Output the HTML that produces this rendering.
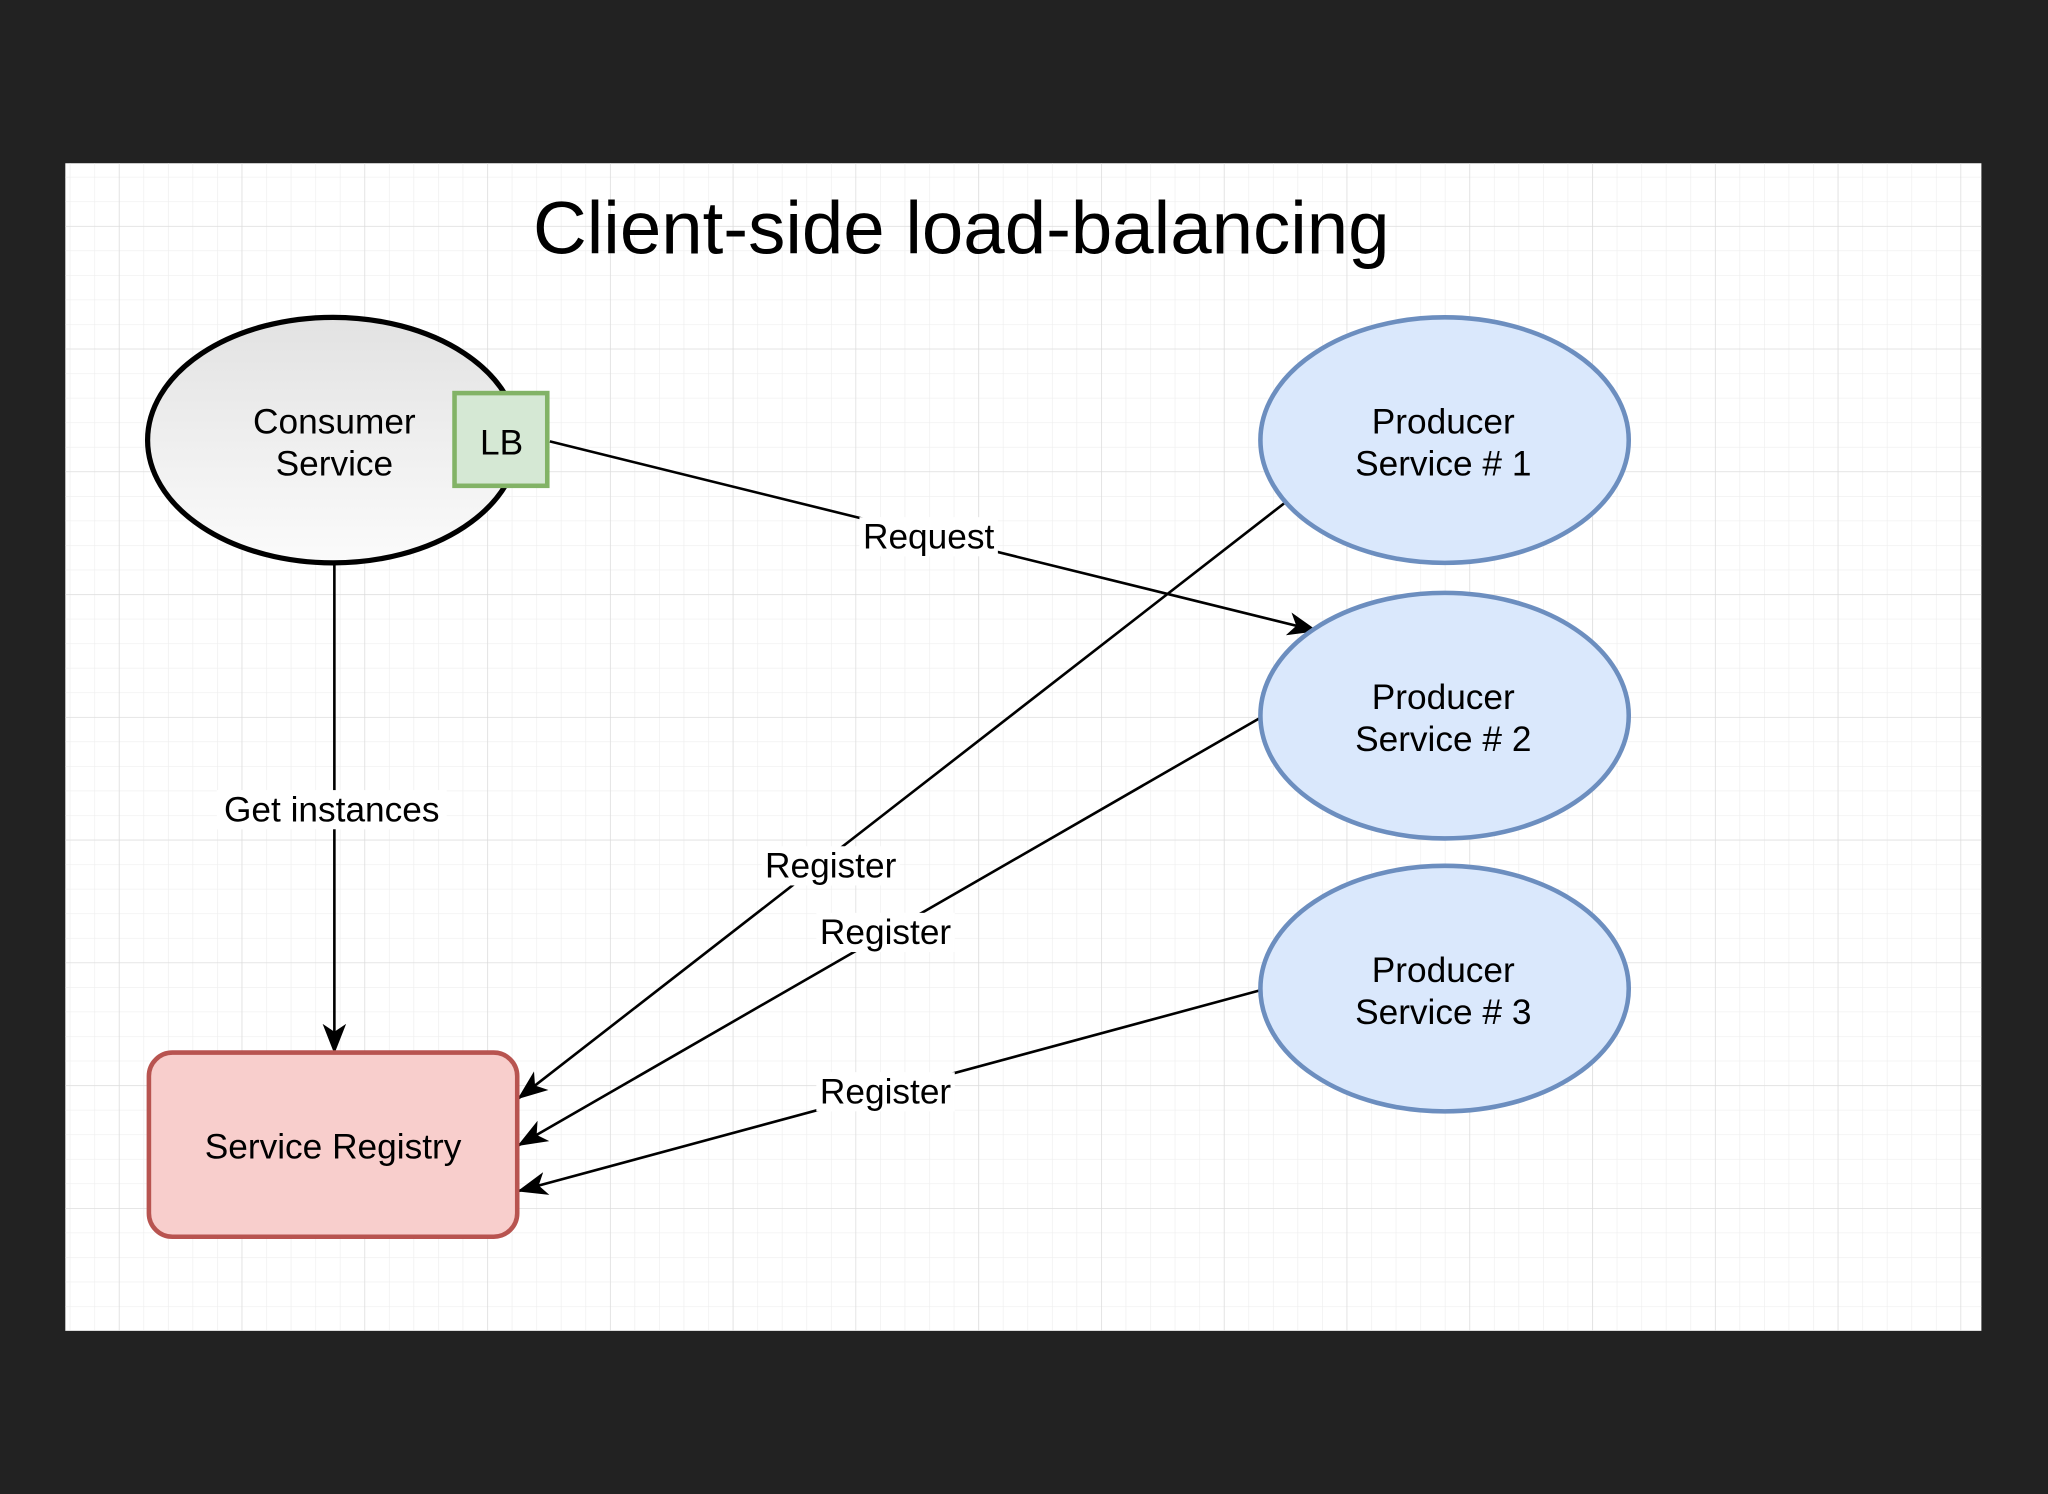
<!DOCTYPE html>
<html><head><meta charset="utf-8"><style>
html,body{margin:0;padding:0;background:#222;}
svg{display:block;}
text{font-family:"Liberation Sans",Arial,sans-serif;fill:#000;}
</style></head><body>
<svg width="2048" height="1494" viewBox="0 0 1568 1144" preserveAspectRatio="none" xmlns="http://www.w3.org/2000/svg">
<defs>
<pattern id="minor" x="91" y="173" width="18.8" height="18.8" patternUnits="userSpaceOnUse">
<path d="M0 0V18.8M0 0H18.8" stroke="#eeeeee" stroke-width="1" fill="none"/>
</pattern>
<pattern id="major" x="91" y="173" width="94" height="94" patternUnits="userSpaceOnUse">
<path d="M0 0V94M0 0H94" stroke="#dadada" stroke-width="1" fill="none"/>
</pattern>
<linearGradient id="g" x1="0" y1="0" x2="0" y2="1">
<stop offset="0" stop-color="#e2e2e2"/><stop offset="1" stop-color="#fbfbfb"/>
</linearGradient>
<marker id="a" markerWidth="24" markerHeight="20" refX="22" refY="10" orient="auto" markerUnits="userSpaceOnUse" viewBox="0 0 24 20">
<path d="M0 1 L23 10 L0 19 L6 10 Z" fill="#000"/>
</marker>
</defs>
<rect x="0" y="0" width="1568" height="1144" fill="#222"/>
<rect x="50" y="125" width="1467" height="894" fill="#fff"/>
<rect x="50" y="125" width="1467" height="894" fill="url(#minor)"/>
<rect x="50" y="125" width="1467" height="894" fill="url(#major)"/>

<text x="736" y="194" font-size="57" text-anchor="middle">Client-side load-balancing</text>

<g stroke="#000" stroke-width="2" fill="none">
<line x1="421" y1="338" x2="1008" y2="483" marker-end="url(#a)"/>
<line x1="256" y1="431" x2="256" y2="806" marker-end="url(#a)"/>
<line x1="985" y1="384" x2="397" y2="841" marker-end="url(#a)"/>
<line x1="966" y1="549" x2="397" y2="877" marker-end="url(#a)"/>
<line x1="966" y1="758" x2="397" y2="912" marker-end="url(#a)"/>
</g>

<g font-size="27" text-anchor="middle">
<rect x="658" y="396" width="106" height="30" fill="#fff"/>
<text x="711" y="420">Request</text>
<rect x="166" y="605" width="176" height="30" fill="#fff"/>
<text x="254" y="629">Get instances</text>
<rect x="583" y="648" width="106" height="30" fill="#fff"/>
<text x="636" y="672">Register</text>
<rect x="625" y="699" width="106" height="30" fill="#fff"/>
<text x="678" y="723">Register</text>
<rect x="625" y="821" width="106" height="30" fill="#fff"/>
<text x="678" y="845">Register</text>
</g>

<ellipse cx="255" cy="337" rx="142" ry="94" fill="url(#g)" stroke="#000" stroke-width="4"/>
<text x="256" y="332" font-size="27" text-anchor="middle">Consumer</text>
<text x="256" y="364" font-size="27" text-anchor="middle">Service</text>
<rect x="348" y="301" width="71" height="71" fill="#d5e8d4" stroke="#82b366" stroke-width="3.5"/>
<text x="384" y="348" font-size="27" text-anchor="middle">LB</text>

<g fill="#dae8fc" stroke="#6c8ebf" stroke-width="3.5">
<ellipse cx="1106" cy="337" rx="141" ry="94"/>
<ellipse cx="1106" cy="548" rx="141" ry="94"/>
<ellipse cx="1106" cy="757" rx="141" ry="94"/>
</g>
<g font-size="27" text-anchor="middle">
<text x="1105" y="332">Producer</text><text x="1105" y="364">Service # 1</text>
<text x="1105" y="543">Producer</text><text x="1105" y="575">Service # 2</text>
<text x="1105" y="752">Producer</text><text x="1105" y="784">Service # 3</text>
</g>

<rect x="114" y="806" width="282" height="141" rx="18" fill="#f8cecc" stroke="#b85450" stroke-width="3.5"/>
<text x="255" y="887" font-size="27" text-anchor="middle">Service Registry</text>
</svg>
</body></html>
